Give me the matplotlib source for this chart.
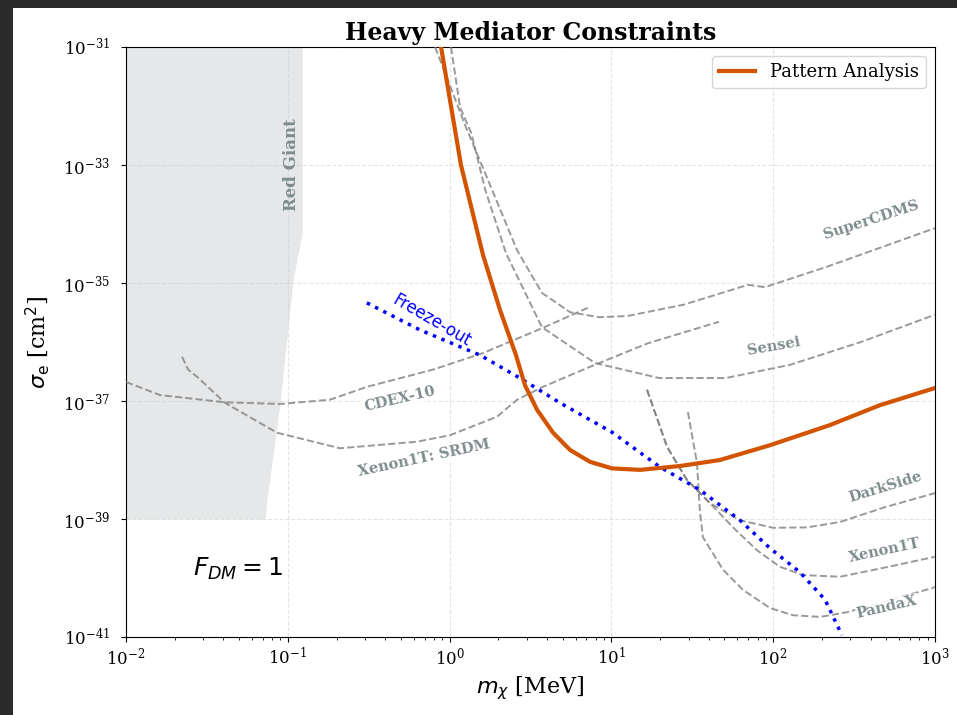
import numpy as np
import matplotlib
matplotlib.use("Agg")
import matplotlib.pyplot as plt
from matplotlib.patches import Rectangle

plt.rcParams['font.family'] = 'serif'

# --- data (mass in MeV, cross section in cm^2) ---
pattern_m = [0.885, 1.175, 1.61, 2.05, 2.57, 2.92, 3.47, 4.36, 5.55, 7.38,
             10.1, 15.0, 26.5, 46.9, 95.5, 224, 457, 1000]
pattern_s = [1e-31, 1e-33, 2.95e-35, 3.47e-36, 6.0e-37, 1.86e-37, 7.1e-38,
             2.9e-38, 1.48e-38, 9.3e-39, 7.2e-39, 6.8e-39, 7.9e-39, 1.0e-38,
             1.78e-38, 3.9e-38, 8.5e-38, 1.66e-37]

freeze_m = [0.308, 0.656, 1.54, 2.72, 4.81, 10.1, 19.95, 35.3, 62.4, 95.5,
            146, 209, 266]
freeze_s = [4.6e-36, 1.6e-36, 6.0e-37, 2.45e-37, 9.3e-38, 2.95e-38, 7.6e-39,
            3.1e-39, 9.5e-40, 3.2e-40, 1.26e-40, 4.3e-41, 1.07e-41]

redgiant_m = [0.1225, 0.1225, 0.1077, 0.0895, 0.0743, 0.0723]
redgiant_s = [1e-31, 7.1e-35, 1.12e-35, 9.3e-38, 2.1e-39, 1e-39]

cdex_m = [0.01, 0.0162, 0.0409, 0.0895, 0.182, 0.309, 0.789, 1.61, 3.78, 7.16]
cdex_s = [2.1e-37, 1.26e-37, 9.5e-38, 8.9e-38, 1.05e-37, 1.74e-37, 3.4e-37,
          6.5e-37, 1.74e-36, 3.8e-36]

srdm_m = [0.0222, 0.0242, 0.0275, 0.0409, 0.0857, 0.21, 0.628, 1.005, 1.96,
          2.61, 3.78, 7.38, 16.8, 46.2]
srdm_s = [5.6e-37, 3.4e-37, 2.57e-37, 9.3e-38, 2.9e-38, 1.58e-38, 2.04e-38,
          2.63e-38, 5.4e-38, 1.05e-37, 1.74e-37, 3.8e-37, 9.5e-37, 2.2e-36]

supercdms_m = [0.813, 1.26, 1.83, 2.61, 3.72, 5.55, 8.38, 12.5, 28.1, 69.8,
               88.9, 212, 1000]
supercdms_s = [1e-31, 4.4e-33, 3.8e-34, 3.6e-35, 6.8e-36, 3.2e-36, 2.63e-36,
               2.75e-36, 4.3e-36, 9.3e-36, 8.5e-36, 1.86e-35, 8.5e-35]

sensei_m = [1.02, 1.16, 1.36, 1.66, 2.23, 3.72, 7.92, 19.7, 51.0, 127, 349, 1000]
sensei_s = [1e-31, 9.5e-33, 3.5e-33, 3.8e-34, 3.2e-35, 1.78e-36, 4.4e-37,
            2.45e-37, 2.45e-37, 4.1e-37, 1.0e-36, 2.9e-36]

darkside_m = [16.6, 22.1, 29.3, 40.6, 62.4, 99.8, 162, 259, 478, 1000]
darkside_s = [1.55e-37, 1.66e-38, 4.6e-39, 1.86e-39, 9.5e-40, 7.1e-40,
              7.2e-40, 8.9e-40, 1.55e-39, 2.75e-39]

xenon1t_m = [16.6, 22.1, 29.3, 40.6, 56.5, 79.4, 110, 153, 259, 478, 1000]
xenon1t_s = [1.55e-37, 1.66e-38, 4.6e-39, 1.86e-39, 7.2e-40, 2.95e-40,
             1.55e-40, 1.12e-40, 1.05e-40, 1.48e-40, 2.29e-40]

pandax_m = [29.7, 33.8, 35.3, 36.8, 49.0, 65.0, 95.5, 132, 195, 286, 973, 1000]
pandax_s = [6.5e-38, 8.9e-39, 1.26e-39, 4.9e-40, 1.38e-40, 6.3e-41, 3.1e-41,
            2.34e-41, 2.19e-41, 2.63e-41, 6.8e-41, 7.1e-41]

gray_curves = [cdex_m, cdex_s], [srdm_m, srdm_s], [supercdms_m, supercdms_s], \
    [sensei_m, sensei_s], [darkside_m, darkside_s], [xenon1t_m, xenon1t_s], \
    [pandax_m, pandax_s]

# labels: text, mass, sigma, rotation
labels = [
    ("CDEX-10", 0.49, 1.07e-37, 13),
    ("Xenon1T: SRDM", 0.695, 1.07e-38, 12),
    ("SuperCDMS", 402, 1.17e-34, 18),
    ("Sensei", 101, 8.5e-37, 10),
    ("DarkSide", 491, 3.5e-39, 17),
    ("Xenon1T", 491, 2.95e-40, 12),
    ("PandaX", 505, 3.2e-41, 13),
]

fig = plt.figure(figsize=(9.57, 7.15), dpi=100, facecolor='#2b2b2b')
fig.patches.append(Rectangle((13 / 957, 0), 1, 1 - 8 / 715, transform=fig.transFigure,
                             facecolor='white', edgecolor='none', zorder=-1))
ax = fig.add_axes([0.1317, 0.1091, 0.8453, 0.8252])

ax.fill_betweenx(redgiant_s, 1e-2, redgiant_m, color='#e5e7e9', lw=0, zorder=1)
ax.text(0.106, 1e-33, "Red Giant", rotation=90, ha='center', va='center',
        fontsize=12, fontweight='bold', color='#7f8c8d', zorder=2)

for m, s in gray_curves:
    ax.plot(m, s, ls='--', color='gray', lw=1.4, alpha=0.8, zorder=3)

for txt, m, s, rot in labels:
    ax.text(m, s, txt, rotation=rot, ha='center', va='center', fontsize=10.5,
            fontweight='bold', color='#7f8c8d', zorder=4,
            bbox=dict(facecolor='white', edgecolor='none', pad=0.5, alpha=0.9))

ax.plot(freeze_m, freeze_s, ls=':', color='blue', lw=2.5, zorder=5)
ax.text(0.778, 2.3e-36, "Freeze-out", rotation=-30, ha='center', va='center',
        fontsize=12, color='blue', family='DejaVu Sans', zorder=5)

ax.plot(pattern_m, pattern_s, color='#d35400', lw=3, label='Pattern Analysis', zorder=6)

ax.text(0.083, 0.115, r'$F_{DM} = 1$', transform=ax.transAxes, fontsize=18,
        ha='left', va='center')

ax.set_xscale('log')
ax.set_yscale('log')
ax.set_xlim(1e-2, 1e3)
ax.set_ylim(1e-41, 1e-31)
ax.grid(True, which='major', ls='--', color='#cccccc', alpha=0.5, lw=0.8)
ax.tick_params(labelsize=12)
ax.tick_params(axis='y', pad=8)
ax.set_xlabel(r'$m_\chi$ [MeV]', fontsize=16)
ax.set_ylabel(r'$\sigma_\mathrm{e}$ [cm$^2$]', fontsize=16, labelpad=8)
ax.set_title('Heavy Mediator Constraints', fontsize=17, fontweight='bold', pad=5)
ax.legend(loc='upper right', fontsize=13)

fig.savefig('out.png', dpi=100, facecolor=fig.get_facecolor())
